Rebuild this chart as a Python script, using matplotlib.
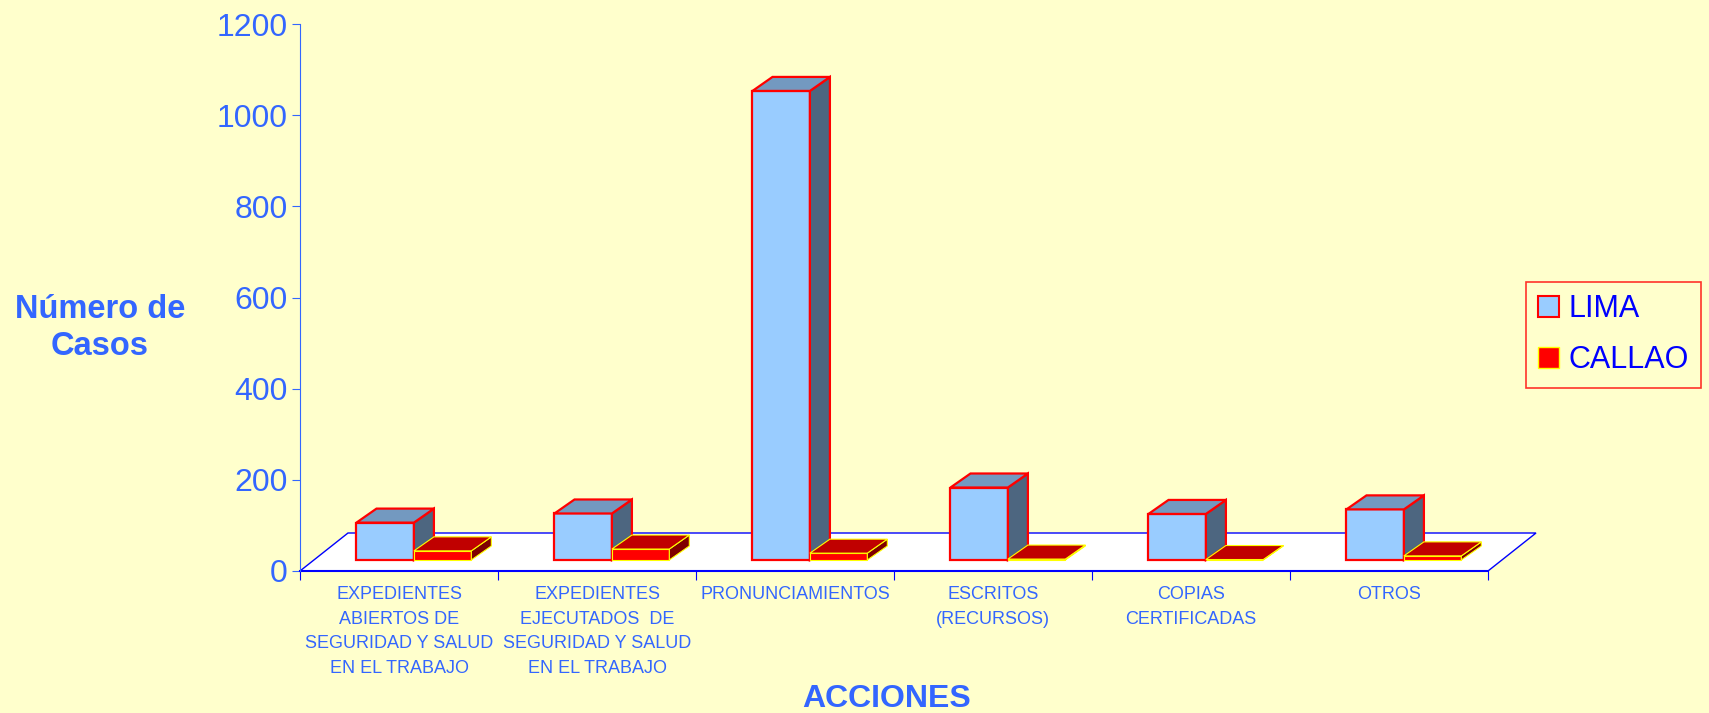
import numpy as np
import matplotlib.pyplot as plt
from matplotlib.patches import Polygon, Patch

plt.rcParams['font.family'] = ['Liberation Sans', 'DejaVu Sans']

# %%
acciones = [
    'EXPEDIENTES\nABIERTOS DE\nSEGURIDAD Y SALUD\nEN EL TRABAJO',
    'EXPEDIENTES\nEJECUTADOS  DE\nSEGURIDAD Y SALUD\nEN EL TRABAJO',
    'PRONUNCIAMIENTOS',
    'ESCRITOS\n(RECURSOS)',
    'COPIAS\nCERTIFICADAS',
    'OTROS',
]
lima = [82, 102, 1029, 159, 101, 111]
callao = [20, 24, 15, 2, 1, 9]
yticks = [0, 200, 400, 600, 800, 1000, 1200]

fondo = '#FFFFCC'
azul_txt = '#3366FF'
azul = '#0000FF'

# %%
W, H = 1709, 713
fig = plt.figure(figsize=(W / 100, H / 100), dpi=100, facecolor=fondo)
ax = fig.add_axes([300 / W, (H - 571) / H, 1188 / W, 547 / H])
ax.set_facecolor('none')
ax.set_xlim(0, len(acciones))
ax.set_ylim(0, 1200)

# escala: pixeles -> unidades de datos
px_x = 1 / 198.0          # una categoria = 198 px
px_y = 1200 / 547.0

# profundidad del piso
pdx, pdy = 48 * px_x, 38 * px_y
# profundidad de cada barra
bdx, bdy = 20 * px_x, 14 * px_y
f = 0.29                  # posicion de la cara frontal dentro del piso
sx, sy = f * pdx, f * pdy
ancho = 0.29
inicio = 0.215

n = len(acciones)
piso = Polygon([(0, 0), (n, 0), (n + pdx, pdy), (pdx, pdy)], closed=True,
               facecolor='white', edgecolor=azul, lw=1, clip_on=False, zorder=1)
ax.add_patch(piso)


def barra3d(x0, v, c_frente, c_arriba, c_lado, borde, lw):
    x0 = x0 + sx
    x1 = x0 + ancho
    y0 = sy
    y1 = sy + v
    caras = [
        ([(x0, y0), (x1, y0), (x1, y1), (x0, y1)], c_frente),
        ([(x1, y0), (x1 + bdx, y0 + bdy), (x1 + bdx, y1 + bdy), (x1, y1)], c_lado),
        ([(x0, y1), (x1, y1), (x1 + bdx, y1 + bdy), (x0 + bdx, y1 + bdy)], c_arriba),
    ]
    for pts, c in caras:
        ax.add_patch(Polygon(pts, closed=True, facecolor=c, edgecolor=borde,
                             lw=lw, joinstyle='miter', clip_on=False, zorder=3))


for i in range(n):
    barra3d(i + inicio, lima[i], '#99CCFF', '#7399C0', '#4D6680', '#FF0000', 1.6)
    barra3d(i + inicio + ancho, callao[i], '#FF0000', '#C00000', '#800000', '#FFFF00', 0.8)

# %%
for s in ['top', 'right']:
    ax.spines[s].set_visible(False)
ax.spines['left'].set_color(azul_txt)
ax.spines['bottom'].set_color(azul)
ax.spines['bottom'].set_linewidth(1.5)
ax.spines['bottom'].set_zorder(2)

ax.set_yticks(yticks)
ax.tick_params(axis='y', colors=azul_txt, labelsize=23, length=6, pad=3)

ax.set_xticks(np.arange(n + 1))
ax.set_xticklabels([])
ax.tick_params(axis='x', which='major', colors=azul, length=6.5)
ax.set_xticks(np.arange(n) + 0.5, minor=True)
ax.set_xticklabels(acciones, minor=True)
ax.tick_params(axis='x', which='minor', length=0, pad=11, labelsize=13,
               labelcolor=azul_txt)
for lbl in ax.get_xticklabels(minor=True):
    lbl.set_linespacing(1.58)

fig.text(100 / W, (H - 328) / H, 'Número de\nCasos', ha='center', va='center',
         fontsize=23.5, fontweight='bold', color=azul_txt, linespacing=1.25)
fig.text(887 / W, (H - 706.7) / H, 'ACCIONES', ha='center', va='baseline',
         fontsize=23, fontweight='bold', color=azul_txt)

# %%
handles = [
    Patch(facecolor='#99CCFF', edgecolor='#FF0000', lw=1.5, label='LIMA'),
    Patch(facecolor='#FF0000', edgecolor='#FFFF00', lw=1, label='CALLAO'),
]
leg = fig.legend(handles=handles, loc='upper left',
                 bbox_to_anchor=(1525.7 / W, (H - 281.7) / H),
                 fontsize=22, frameon=True, fancybox=False, facecolor=fondo,
                 edgecolor='#FF0000', handlelength=0.7, handleheight=0.7,
                 handletextpad=0.3, labelspacing=0.7, borderpad=0.4,
                 borderaxespad=0)
leg.get_frame().set_linewidth(1.2)
for t in leg.get_texts():
    t.set_color(azul)

fig.savefig('out.png', dpi=100, facecolor=fondo)
